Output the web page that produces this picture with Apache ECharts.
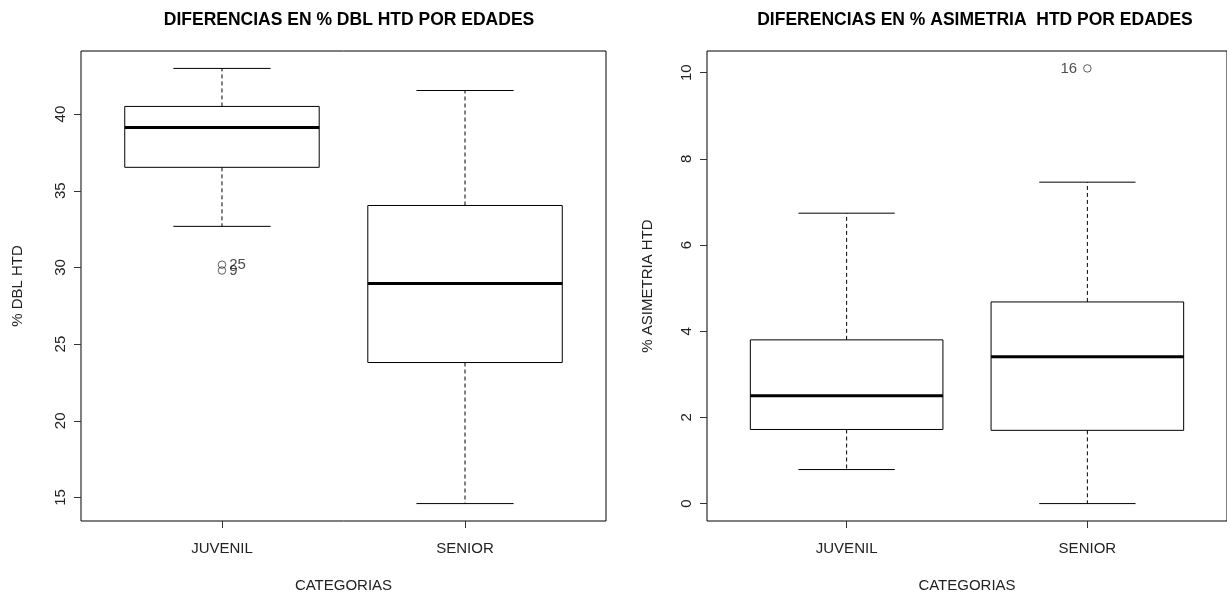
<!DOCTYPE html>
<html><head><meta charset="utf-8">
<script src="https://cdn.jsdelivr.net/npm/echarts@6/dist/echarts.min.js"></script>
<style>html,body{margin:0;padding:0;background:#fff}#c{width:1227px;height:598px}</style>
</head><body><div id="c"></div>
<script>
// ---- data ----
const categories = ['JUVENIL', 'SENIOR'];
// [lower whisker, Q1, median, Q3, upper whisker]
const dblJuvenil = [32.68, 36.53, 39.13, 40.5, 42.98];
const dblSenior = [14.6, 23.8, 28.96, 34.04, 41.54];
const dblOutlierGroup = [1, 1];
const dblOutlierValues = [30.18, 29.8];
const dblOutlierLabels = ['25', '9'];
const asimJuvenil = [0.79, 1.72, 2.5, 3.8, 6.74];
const asimSenior = [0.0, 1.7, 3.41, 4.68, 7.46];
const asimOutlierGroup = [2];
const asimOutlierValues = [10.1];
const asimOutlierLabels = ['16'];
const dblTicks = [15, 20, 25, 30, 35, 40];
const asimTicks = [0, 2, 4, 6, 8, 10];
const catTicks = [1, 2];

const FONT = 'Liberation Sans, Arial, sans-serif';
const TXT = '#222';

function extRange(arrs) {
  const all = [].concat(...arrs);
  const lo = Math.min(...all), hi = Math.max(...all);
  const e = (hi - lo) * 0.04;
  return [lo - e, hi + e];
}
const dblRange = extRange([dblJuvenil, dblSenior, dblOutlierValues]);
const asimRange = extRange([asimJuvenil, asimSenior, asimOutlierValues]);

function renderBox(params, api) {
  const x = api.value(0);
  const lo = api.value(1), q1 = api.value(2), med = api.value(3), q3 = api.value(4), hi = api.value(5);
  const half = 0.4, st = 0.2;
  const c = (a, b) => api.coord([a, b]);
  const line = (p1, p2, extra) => Object.assign({
    type: 'line',
    shape: { x1: p1[0], y1: p1[1], x2: p2[0], y2: p2[1] },
    style: { stroke: '#000', lineWidth: 1 }
  }, extra || {});
  const tl = c(x - half, q3), br = c(x + half, q1);
  const dash = { style: { stroke: '#000', lineWidth: 1, lineDash: [4, 3] } };
  return {
    type: 'group',
    children: [
      line(c(x, q3), c(x, hi), dash),
      line(c(x, q1), c(x, lo), dash),
      line(c(x - st, hi), c(x + st, hi)),
      line(c(x - st, lo), c(x + st, lo)),
      { type: 'rect', shape: { x: tl[0], y: tl[1], width: br[0] - tl[0], height: br[1] - tl[1] },
        style: { fill: 'rgba(0,0,0,0)', stroke: '#000', lineWidth: 1 } },
      line(c(x - half, med), c(x + half, med), { style: { stroke: '#000', lineWidth: 3 } })
    ]
  };
}

const chart = echarts.init(document.getElementById('c'), null, { renderer: 'canvas' });

function xAxisCfg(i) {
  return {
    type: 'value', gridIndex: i, min: 0.42, max: 2.58, position: 'bottom',
    axisLine: { show: false, onZero: false }, splitLine: { show: false },
    axisTick: { show: true, length: 7, customValues: catTicks, lineStyle: { color: '#333' } },
    axisLabel: { customValues: catTicks, formatter: v => categories[Math.round(v) - 1] || '',
      fontSize: 15, color: TXT, fontFamily: FONT, margin: 20 },
    name: 'CATEGORIAS', nameLocation: 'middle', nameGap: 57,
    nameTextStyle: { fontSize: 15, color: TXT, fontFamily: FONT }
  };
}
function yAxisCfg(i, range, ticks, name, gap) {
  return {
    type: 'value', gridIndex: i, min: range[0], max: range[1], position: 'left',
    axisLine: { show: false, onZero: false }, splitLine: { show: false },
    axisTick: { show: true, length: 7, customValues: ticks, lineStyle: { color: '#333' } },
    axisLabel: { customValues: ticks, rotate: 90, fontSize: 15, color: TXT, fontFamily: FONT, margin: 13 },
    name: name, nameLocation: 'middle', nameGap: gap,
    nameTextStyle: { fontSize: 15, color: TXT, fontFamily: FONT }
  };
}

chart.setOption({
  animation: false,
  backgroundColor: '#fff',
  title: [
    { text: 'DIFERENCIAS EN % DBL HTD POR EDADES', left: 344, top: 6, textAlign: 'center',
      textStyle: { fontSize: 17.5, fontWeight: 'bold', color: '#000', fontFamily: FONT } },
    { text: 'DIFERENCIAS EN % ASIMETRIA  HTD POR EDADES', left: 970, top: 6, textAlign: 'center',
      textStyle: { fontSize: 17.5, fontWeight: 'bold', color: '#000', fontFamily: FONT } }
  ],
  grid: [
    { left: 81, top: 51, width: 525, height: 472, show: true, borderColor: '#000', borderWidth: 1, backgroundColor: 'transparent' },
    { left: 707, top: 51, width: 526, height: 472, show: true, borderColor: '#000', borderWidth: 1, backgroundColor: 'transparent' }
  ],
  xAxis: [xAxisCfg(0), xAxisCfg(1)],
  yAxis: [
    yAxisCfg(0, dblRange, dblTicks, '% DBL HTD', 56),
    yAxisCfg(1, asimRange, asimTicks, '% ASIMETRIA HTD', 52)
  ],
  series: [
    { type: 'custom', xAxisIndex: 0, yAxisIndex: 0, renderItem: renderBox,
      encode: { x: 0, y: [1, 2, 3, 4, 5] },
      data: [[1].concat(dblJuvenil), [2].concat(dblSenior)] },
    { type: 'custom', xAxisIndex: 1, yAxisIndex: 1, renderItem: renderBox,
      encode: { x: 0, y: [1, 2, 3, 4, 5] },
      data: [[1].concat(asimJuvenil), [2].concat(asimSenior)] },
    { type: 'scatter', xAxisIndex: 0, yAxisIndex: 0, symbol: 'circle', symbolSize: 7.5,
      itemStyle: { color: 'rgba(255,255,255,0)', borderColor: '#222', borderWidth: 0.9 },
      label: { show: true, position: 'right', distance: 3, formatter: p => p.value[2],
        fontSize: 15, color: TXT, fontFamily: FONT },
      data: dblOutlierValues.map((v, i) => [dblOutlierGroup[i], v, dblOutlierLabels[i]]) },
    { type: 'scatter', xAxisIndex: 1, yAxisIndex: 1, symbol: 'circle', symbolSize: 7.5,
      itemStyle: { color: 'rgba(255,255,255,0)', borderColor: '#222', borderWidth: 0.9 },
      label: { show: true, position: 'left', distance: 6, formatter: p => p.value[2],
        fontSize: 15, color: TXT, fontFamily: FONT },
      data: asimOutlierValues.map((v, i) => [asimOutlierGroup[i], v, asimOutlierLabels[i]]) }
  ]
});
</script>
</body></html>
